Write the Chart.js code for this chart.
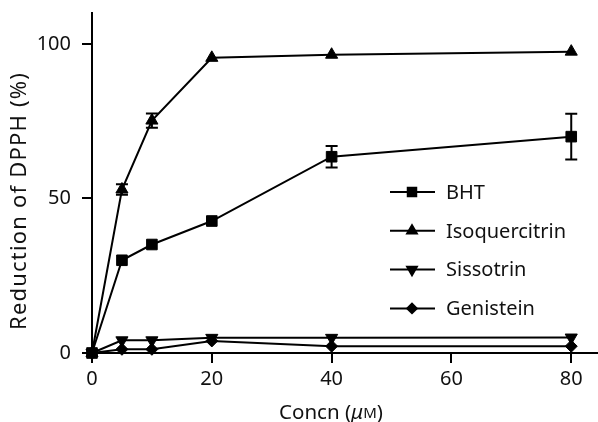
<!DOCTYPE html>
<html>
<head>
<meta charset="utf-8">
<script src="https://cdn.jsdelivr.net/npm/chart.js@4.4.1/dist/chart.umd.min.js"></script>
<style>
  html, body { margin: 0; padding: 0; background: #fff; }
  #wrap { width: 598px; height: 422px; }
</style>
</head>
<body>
<div id="wrap"><canvas id="myChart" width="598" height="422"></canvas></div>
<script>
// concentrations (uM)
const concn = [0, 5, 10, 20, 40, 80]

const names = ['BHT', 'Isoquercitrin', 'Sissotrin', 'Genistein']
const bht = [0, 30, 35.1, 42.7, 63.5, 70]
const bhtErr = [0, 0, 0, 0, 3.5, 7.4]
const isoquercitrin = [0, 52.9, 75.2, 95.5, 96.5, 97.5]
const isoErr = [0, 1.7, 2.3, 0, 0, 0]
const sissotrin = [0, 4.1, 4.1, 4.9, 4.9, 5.0]
const genistein = [0, 1.2, 1.2, 3.9, 2.2, 2.2]

const xTicks = [0, 20, 40, 60, 80]
const yTicks = [0, 50, 100]

const FONT = "'Noto Sans', 'Open Sans', sans-serif"

function pts(vals) {
  return concn.map((c, i) => ({ x: c, y: vals[i] }))
}

function makeSet(label, vals, style, radius, rot, err) {
  return {
    label: label,
    data: pts(vals),
    err: err,
    borderColor: '#000',
    backgroundColor: '#000',
    borderWidth: 2,
    pointStyle: style,
    pointRotation: rot,
    pointRadius: radius,
    pointHoverRadius: radius,
    pointBorderWidth: 1,
    pointBackgroundColor: '#000',
    pointBorderColor: '#000',
    tension: 0,
    clip: false
  }
}

// vertical error bars, drawn from the scales
const errorBars = {
  id: 'errorBars',
  afterDatasetsDraw(chart) {
    const ctx = chart.ctx
    const xs = chart.scales.x
    const ys = chart.scales.y
    ctx.save()
    ctx.strokeStyle = '#000'
    ctx.lineWidth = 2
    chart.data.datasets.forEach(ds => {
      if (!ds.err) return
      ds.data.forEach((p, i) => {
        const e = ds.err[i]
        if (!e) return
        const px = xs.getPixelForValue(p.x)
        const top = ys.getPixelForValue(p.y + e)
        const bot = ys.getPixelForValue(p.y - e)
        ctx.beginPath()
        ctx.moveTo(px, top); ctx.lineTo(px, bot)
        ctx.moveTo(px - 6, top); ctx.lineTo(px + 6, top)
        ctx.moveTo(px - 6, bot); ctx.lineTo(px + 6, bot)
        ctx.stroke()
      })
    })
    ctx.restore()
  }
}

// legend inside the plot: line + marker + label
const lineLegend = {
  id: 'lineLegend',
  afterDraw(chart) {
    const ctx = chart.ctx
    const area = chart.chartArea
    const x0 = 390
    const y0 = area.top + 179
    ctx.save()
    chart.data.datasets.forEach((ds, i) => {
      const y = y0 + i * 38.8
      ctx.strokeStyle = '#000'
      ctx.lineWidth = 2
      ctx.beginPath()
      ctx.moveTo(x0, y); ctx.lineTo(x0 + 45, y)
      ctx.stroke()
      ctx.fillStyle = '#000'
      Chart.helpers.drawPoint(ctx, {
        pointStyle: ds.pointStyle,
        rotation: ds.pointRotation,
        radius: ds.pointRadius * 0.8,
        borderWidth: 1
      }, x0 + 22, y)
      ctx.fillStyle = '#111'
      ctx.font = '20px ' + FONT
      ctx.textAlign = 'left'
      ctx.textBaseline = 'middle'
      ctx.fillText(ds.label, x0 + 56, y + 1)
    })
    ctx.restore()
  }
}

// axis titles (x title has italic mu and small-cap M)
const axisTitles = {
  id: 'axisTitles',
  afterDraw(chart) {
    const ctx = chart.ctx
    ctx.save()
    ctx.fillStyle = '#111'
    ctx.textBaseline = 'middle'

    // y title
    ctx.save()
    ctx.translate(20, 201)
    ctx.rotate(-Math.PI / 2)
    ctx.textAlign = 'center'
    ctx.font = '22px ' + FONT
    ctx.letterSpacing = '1.2px'
    ctx.fillText('Reduction of DPPH (%)', 0, 0)
    ctx.restore()

    // x title
    const parts = [
      ['Concn (', '20.5px ' + FONT],
      ['\u03bc', 'italic 20.5px ' + FONT],
      ['M', '15px ' + FONT],
      [')', '20.5px ' + FONT]
    ]
    let total = 0
    parts.forEach(p => { ctx.font = p[1]; total += ctx.measureText(p[0]).width })
    let x = 331 - total / 2
    const y = 413
    ctx.textAlign = 'left'
    parts.forEach(p => {
      ctx.font = p[1]
      ctx.fillText(p[0], x, p[0] === 'M' ? y + 1 : y)
      x += ctx.measureText(p[0]).width
    })
    ctx.restore()
  }
}

const ctx = document.getElementById('myChart')

new Chart(ctx, {
  type: 'line',
  data: {
    datasets: [
      makeSet(names[0], bht, 'rect', 7.5, 0, bhtErr),
      makeSet(names[1], isoquercitrin, 'triangle', 7, 0, isoErr),
      makeSet(names[2], sissotrin, 'triangle', 7, 180, null),
      makeSet(names[3], genistein, 'rectRot', 6, 0, null)
    ]
  },
  options: {
    responsive: false,
    animation: false,
    layout: { autoPadding: false, padding: { left: 0, right: 1, top: 13, bottom: 0 } },
    plugins: {
      legend: { display: false },
      tooltip: { enabled: false }
    },
    scales: {
      x: {
        type: 'linear',
        min: 0,
        max: 84.3,
        afterBuildTicks: axis => { axis.ticks = xTicks.map(v => ({ value: v })) },
        afterFit: axis => {
          axis.height = 69
          axis.paddingLeft = 0
          axis.paddingRight = 0
        },
        grid: { drawOnChartArea: false, drawTicks: true, tickLength: 10, color: '#000', lineWidth: 2 },
        border: { display: true, color: '#000', width: 2 },
        ticks: { color: '#111', font: { family: FONT, size: 20 }, padding: 4, maxRotation: 0 },
        title: { display: false }
      },
      y: {
        type: 'linear',
        min: 0,
        max: 110,
        afterBuildTicks: axis => { axis.ticks = yTicks.map(v => ({ value: v })) },
        afterFit: axis => {
          axis.width = 92
          axis.paddingTop = 0
          axis.paddingBottom = 0
        },
        grid: { drawOnChartArea: false, drawTicks: true, tickLength: 10, color: '#000', lineWidth: 2 },
        border: { display: true, color: '#000', width: 2 },
        ticks: { color: '#111', font: { family: FONT, size: 20 }, padding: 11 },
        title: { display: false }
      }
    }
  },
  plugins: [errorBars, lineLegend, axisTitles]
})
</script>
</body>
</html>
